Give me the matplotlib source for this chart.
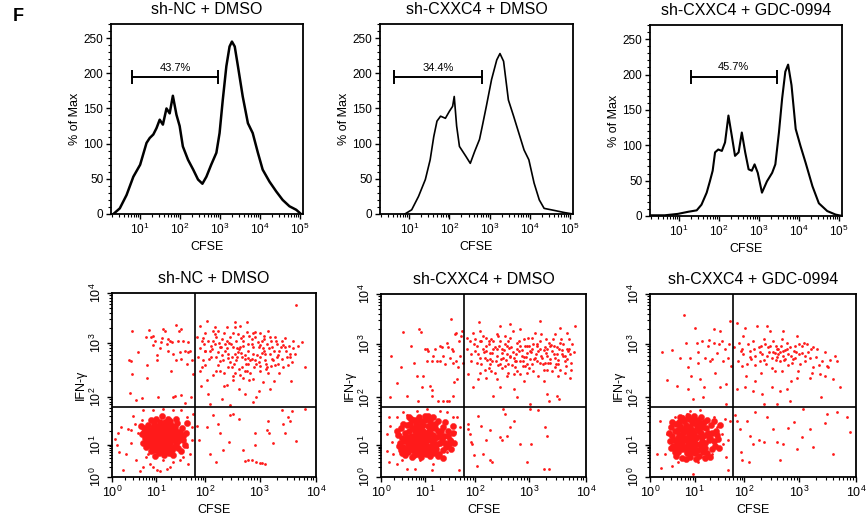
import numpy as np
import matplotlib
matplotlib.use('Agg')
import matplotlib.pyplot as plt
from matplotlib.ticker import FixedLocator, NullFormatter, MultipleLocator

plt.rcParams['font.family'] = ['Liberation Sans', 'DejaVu Sans']
plt.rcParams['mathtext.fontset'] = 'custom'
plt.rcParams['mathtext.rm'] = 'Liberation Sans'
plt.rcParams['mathtext.it'] = 'Liberation Sans:italic'
plt.rcParams['mathtext.bf'] = 'Liberation Sans:bold'

titles = ['sh-NC + DMSO', 'sh-CXXC4 + DMSO', 'sh-CXXC4 + GDC-0994']

# --- CFSE histograms: (log10 CFSE, % of Max) ---
nc_hist = [(0.33, 0), (0.49, 8), (0.66, 27), (0.83, 53), (1.0, 70), (1.16, 101), (1.24, 108),
           (1.33, 113), (1.41, 122), (1.49, 134), (1.57, 127), (1.66, 150), (1.74, 143), (1.82, 168),
           (1.91, 141), (1.99, 125), (2.07, 96), (2.2, 77), (2.33, 63), (2.45, 49), (2.56, 43),
           (2.66, 53), (2.78, 70), (2.91, 87), (2.99, 115), (3.07, 162), (3.16, 210), (3.24, 238),
           (3.3, 245), (3.37, 238), (3.45, 210), (3.57, 167), (3.7, 129), (3.82, 115), (3.95, 87),
           (4.07, 63), (4.24, 46), (4.41, 32), (4.57, 20), (4.74, 11), (4.91, 6), (5.03, 0)]
cxxc4_hist = [(0.89, 0), (1.06, 6), (1.23, 25), (1.4, 49), (1.52, 77), (1.61, 110), (1.69, 132),
              (1.78, 139), (1.9, 136), (2.0, 146), (2.08, 153), (2.12, 167), (2.18, 125), (2.25, 96),
              (2.33, 89), (2.41, 82), (2.52, 72), (2.63, 89), (2.75, 106), (2.82, 125), (2.92, 153),
              (3.05, 191), (3.18, 219), (3.26, 228), (3.35, 217), (3.47, 162), (3.6, 139), (3.73, 115),
              (3.86, 91), (3.98, 77), (4.11, 44), (4.24, 20), (4.36, 8), (4.62, 5), (4.87, 2), (5.08, 0)]
gdc_hist = [(0.3, 1), (0.64, 1), (0.97, 3), (1.23, 6), (1.44, 8), (1.56, 16), (1.69, 33), (1.77, 49),
            (1.84, 64), (1.9, 90), (1.98, 94), (2.07, 92), (2.15, 104), (2.235, 142), (2.32, 113),
            (2.4, 85), (2.49, 90), (2.57, 118), (2.655, 90), (2.74, 66), (2.82, 64), (2.89, 73),
            (2.97, 61), (3.075, 33), (3.2, 49), (3.33, 61), (3.41, 73), (3.5, 118), (3.58, 166),
            (3.66, 204), (3.73, 214), (3.815, 185), (3.92, 123), (4.04, 99), (4.17, 75), (4.34, 42),
            (4.5, 18), (4.71, 7), (4.92, 2), (5.09, 0)]

# divided-cell gate: (start log10, end log10, height, label)
hist_gates = [(0.80, 2.95, 194, '43.7%'), (0.62, 2.80, 194, '34.4%'), (1.29, 3.45, 197, '45.7%')]

# --- IFN-gamma vs CFSE dot plots: (log10 CFSE, log10 IFN-gamma) ---
nc_dots = [
    (0.45, 3.25), (0.39, 2.69), (0.42, 2.66), (0.46, 2.43), (0.58, 2.83), (0.40, 2.07), (0.55, 1.94),
    (0.67, 1.97), (0.79, 2.60), (0.79, 2.36), (0.83, 3.27), (0.88, 3.12), (0.93, 2.97), (0.97, 3.05),
    (1.02, 2.77), (1.01, 2.68), (1.07, 2.90), (1.12, 3.11), (1.14, 3.29), (1.18, 3.24), (1.21, 2.99),
    (1.24, 2.86), (1.28, 3.05), (1.30, 2.49), (1.32, 3.02), (1.34, 2.80), (1.38, 2.01), (1.41, 3.37),
    (1.45, 3.05), (1.46, 3.25), (1.51, 3.29), (1.48, 2.83), (1.51, 2.71), (1.55, 3.05), (1.58, 2.86),
    (1.62, 2.62), (1.65, 2.83), (1.68, 2.86), (1.70, 2.00), (1.72, 2.68), (1.74, 2.43), (1.51, 2.03),
    (1.58, 1.88), (1.34, 2.00), (1.04, 2.00), (0.78, 3.12), (0.93, 3.14), (1.24, 3.09), (1.09, 3.02),
    (1.41, 2.68), (1.64, 3.03),
    (1.82, 3.12), (1.89, 2.90), (1.92, 3.05), (1.97, 2.99), (2.02, 3.45), (2.05, 3.05), (2.08, 2.86),
    (2.14, 3.05), (2.17, 2.99), (2.20, 2.74), (2.23, 3.25), (2.27, 2.93), (2.30, 3.09), (2.33, 2.68),
    (2.36, 2.99), (2.39, 3.32), (2.42, 2.80), (2.45, 3.12), (2.48, 2.56), (2.51, 2.93), (2.54, 3.42),
    (2.57, 2.68), (2.60, 3.19), (2.64, 2.93), (2.67, 2.74), (2.70, 3.05), (2.73, 2.49), (2.76, 3.22),
    (2.79, 2.86), (2.82, 2.68), (2.85, 2.99), (2.88, 2.80), (2.91, 3.22), (2.94, 2.62), (2.98, 2.93),
    (3.01, 2.74), (3.04, 3.05), (3.07, 2.86), (3.10, 2.68), (3.13, 2.99), (3.15, 3.25), (3.18, 2.80),
    (3.21, 2.93), (3.24, 2.68), (3.27, 3.12), (3.30, 2.74), (3.39, 3.05), (3.45, 2.93), (3.48, 2.74),
    (3.54, 2.80), (3.60, 3.05), (3.75, 3.02), (3.81, 2.56), (3.65, 3.77), (2.76, 3.42), (2.51, 3.20),
    (2.20, 3.12), (1.95, 2.68), (1.89, 2.49), (2.02, 2.31), (2.14, 2.40), (2.27, 2.49), (2.39, 2.22),
    (2.51, 2.31), (2.64, 2.40), (2.76, 2.49), (2.88, 2.34), (3.01, 2.49), (3.13, 2.56), (3.18, 2.15),
    (2.94, 2.00), (2.73, 2.06), (2.45, 1.83), (2.08, 1.85), (1.99, 2.86), (2.11, 2.74), (2.23, 2.83),
    (2.36, 2.86), (2.48, 2.74), (2.60, 2.83), (2.73, 2.77), (2.85, 2.71), (2.98, 2.65), (3.10, 2.80),
    (3.21, 2.71), (3.33, 2.77), (2.17, 3.32), (2.54, 3.32), (2.91, 3.12), (2.42, 2.56), (2.67, 2.56),
    (2.54, 2.80), (2.79, 2.62), (3.07, 3.15), (3.30, 2.99), (3.42, 2.96), (3.54, 2.74), (1.89, 3.35),
    (2.14, 3.25), (2.39, 3.05), (2.64, 3.35), (2.62, 2.88), (2.70, 2.95), (2.78, 2.72), (2.95, 2.78),
    (3.05, 2.90), (3.12, 2.62), (2.85, 3.08), (2.58, 2.75), (3.20, 3.05), (3.35, 2.85), (3.00, 3.20),
    (2.40, 2.90), (2.30, 2.78), (2.25, 3.00), (2.45, 2.65), (2.90, 2.55), (3.15, 2.45), (3.28, 2.60),
    (3.40, 2.70), (2.70, 2.35), (2.55, 2.45), (2.35, 2.45), (2.10, 2.95), (1.95, 3.10), (2.00, 2.60),
    (3.45, 3.10), (3.60, 2.90), (3.50, 2.60), (2.80, 3.15), (2.65, 3.10),
    (1.85, 2.75), (1.92, 2.55), (2.00, 3.20), (2.06, 2.70), (2.12, 2.88), (2.18, 3.18), (2.24, 2.60),
    (2.29, 2.92), (2.35, 3.20), (2.41, 2.72), (2.47, 2.98), (2.52, 2.62), (2.56, 3.05), (2.61, 2.52),
    (2.66, 2.82), (2.69, 3.15), (2.74, 2.62), (2.78, 2.98), (2.83, 2.45), (2.87, 2.92), (2.92, 2.68),
    (2.96, 3.02), (3.00, 2.58), (3.04, 2.82), (3.08, 3.08), (3.11, 2.52), (3.16, 2.90), (3.20, 2.58),
    (3.25, 2.85), (3.29, 3.05), (3.33, 2.62), (3.37, 2.92), (3.42, 2.55), (3.47, 2.85), (3.52, 2.95),
    (3.57, 2.65), (3.62, 2.80), (3.68, 2.95), (2.20, 2.48), (2.50, 2.38), (2.80, 2.32), (3.05, 2.28),
    (2.35, 2.20), (2.62, 2.15), (2.98, 2.12), (3.26, 2.30), (1.90, 2.20), (2.05, 2.05), (2.30, 1.95),
    (2.88, 1.90), (3.35, 2.45), (3.55, 2.30), (2.00, 2.85), (2.27, 2.66), (2.58, 2.90), (2.87, 3.20),
    (3.18, 3.12), (2.44, 3.00), (2.72, 2.70), (3.00, 2.97),
    (1.82, 1.39), (1.87, 1.10), (2.02, 1.38), (2.09, 0.71), (2.14, 1.62), (2.20, 0.47), (2.23, 1.44),
    (2.27, 1.24), (2.32, 0.83), (2.44, 1.06), (2.45, 1.62), (2.51, 1.65), (2.62, 1.55), (2.70, 0.83),
    (2.73, 0.49), (2.79, 0.52), (2.85, 0.52), (2.91, 1.26), (2.91, 0.99), (2.94, 0.47), (3.01, 0.44),
    (3.04, 0.44), (3.10, 0.42), (3.13, 1.32), (3.14, 1.51), (3.17, 1.24), (3.24, 1.04), (3.39, 1.72),
    (3.42, 1.44), (3.45, 1.26), (3.51, 1.58), (3.54, 1.51), (3.57, 1.71), (3.64, 1.08), (3.81, 1.76),
    (0.06, 1.13), (0.11, 1.01), (0.16, 0.78), (0.25, 0.21), (0.31, 0.73), (0.36, 1.34), (0.42, 1.04),
    (0.48, 1.60), (0.55, 0.52), (0.59, 1.24), (0.63, 0.18), (0.67, 1.53), (0.70, 0.31), (0.78, 0.63),
    (0.82, 0.73), (0.86, 0.42), (0.93, 0.31), (1.01, 0.21), (1.07, 0.18), (1.14, 0.52), (1.21, 0.26),
    (1.28, 0.31), (1.34, 0.47), (1.48, 0.52), (1.55, 0.63), (1.62, 0.94), (1.65, 0.42), (1.68, 0.73),
    (1.72, 1.10), (1.75, 1.65), (1.72, 1.38), (1.62, 1.58), (1.51, 1.72), (1.34, 1.72), (1.14, 1.76),
    (0.93, 1.72), (0.70, 1.72), (0.52, 1.44), (0.44, 1.31), (0.21, 1.38), (0.14, 1.24)]
nc_core = [
    (1.12, 1.21), (1.05, 1.30), (1.20, 1.12), (0.98, 1.18), (1.27, 1.26), (1.15, 1.38), (1.08, 1.05),
    (1.33, 1.15), (0.92, 1.32), (1.22, 0.98), (1.40, 1.30), (0.85, 1.10), (1.02, 0.92), (1.30, 1.42),
    (1.17, 1.48), (0.95, 1.45), (1.45, 1.08), (0.80, 1.25), (1.10, 0.82), (1.36, 0.95), (0.88, 0.98),
    (1.25, 1.35), (1.03, 1.15), (1.14, 1.27), (1.19, 1.05), (0.99, 1.05), (1.29, 1.05), (1.07, 1.40),
    (1.38, 1.20), (0.90, 1.22), (1.48, 1.22), (1.52, 1.35), (0.75, 1.15), (0.72, 1.35), (1.55, 1.10),
    (1.42, 1.45), (0.82, 1.42), (1.24, 1.55), (1.00, 1.55), (1.12, 1.60), (0.78, 0.95), (0.95, 0.85),
    (1.18, 0.88), (1.32, 0.85), (1.45, 0.92), (1.58, 1.00), (1.60, 1.25), (0.68, 1.22), (0.70, 1.05),
    (1.05, 0.75), (1.25, 0.75), (0.88, 0.80), (1.40, 1.55), (0.88, 1.52), (1.62, 1.45), (0.65, 1.40),
    (1.50, 0.80), (1.15, 0.68), (0.98, 0.65), (1.35, 0.70), (1.09, 1.12), (1.16, 1.16), (1.21, 1.22),
    (1.04, 1.24), (0.96, 1.26), (1.26, 1.18), (1.12, 1.34), (1.31, 1.33), (1.02, 1.36), (0.93, 1.38),
    (1.19, 1.31), (1.23, 1.42), (1.08, 1.47), (1.35, 1.38), (1.44, 1.16), (1.49, 1.28), (1.41, 1.02),
    (0.87, 1.17), (0.83, 1.32), (0.79, 1.05), (1.06, 0.99), (1.14, 0.95), (1.27, 0.92), (0.94, 0.95),
    (1.01, 0.84), (1.22, 0.80), (1.37, 1.10), (1.54, 1.18), (0.73, 1.28), (1.28, 1.50), (1.18, 1.40),
    (0.97, 1.12), (1.11, 1.05), (1.24, 1.08), (1.33, 1.25), (1.39, 1.37), (0.91, 1.05), (1.06, 1.19),
    (1.17, 1.22), (1.00, 1.40)]

cxxc4_dots = [
    (0.22, 2.77), (0.20, 2.00), (0.35, 2.26), (0.45, 2.56), (0.49, 3.24), (0.59, 2.03), (0.68, 2.96),
    (0.75, 2.65), (0.80, 2.40), (0.86, 3.29), (0.89, 3.24), (0.92, 2.19), (0.95, 2.40), (0.99, 2.90),
    (1.03, 2.68), (1.06, 2.86), (1.09, 2.22), (1.13, 2.14), (1.14, 2.68), (1.16, 2.77), (1.19, 2.91),
    (1.23, 2.68), (1.26, 1.93), (1.30, 2.68), (1.33, 2.93), (1.35, 1.93), (1.36, 2.77), (1.40, 2.62),
    (1.43, 3.02), (1.46, 2.93), (1.48, 1.93), (1.50, 2.74), (1.51, 3.49), (1.53, 2.90), (1.55, 2.65),
    (1.56, 2.86), (1.58, 2.28), (1.60, 3.19), (1.62, 2.68), (1.63, 2.34), (1.66, 2.56), (1.68, 3.05),
    (1.70, 2.77), (1.72, 3.15), (1.73, 3.25), (1.75, 2.65), (1.44, 1.93), (1.56, 2.03), (1.62, 3.22),
    (1.30, 2.96), (0.84, 1.93), (1.13, 2.03), (1.03, 2.90),
    (1.83, 3.12), (1.90, 3.05), (1.97, 3.22), (2.03, 2.96), (2.08, 3.44), (2.09, 3.25), (2.12, 3.05),
    (2.15, 2.91), (2.18, 2.74), (2.21, 3.12), (2.25, 2.99), (2.28, 2.83), (2.31, 2.68), (2.34, 3.05),
    (2.37, 2.93), (2.40, 2.77), (2.43, 3.15), (2.46, 3.35), (2.49, 2.90), (2.52, 2.74), (2.55, 2.99),
    (2.58, 2.80), (2.61, 2.62), (2.64, 3.12), (2.67, 2.93), (2.71, 2.74), (2.74, 2.56), (2.77, 3.02),
    (2.80, 2.86), (2.83, 3.29), (2.86, 2.77), (2.89, 2.68), (2.92, 2.96), (2.95, 2.83), (2.98, 3.12),
    (3.01, 2.71), (3.04, 2.90), (3.07, 2.99), (3.10, 3.22), (3.13, 2.68), (3.16, 2.86), (3.19, 3.05),
    (3.22, 2.74), (3.25, 2.52), (3.28, 2.93), (3.31, 2.77), (3.34, 3.02), (3.36, 2.65), (3.39, 2.86),
    (3.42, 3.09), (3.45, 2.74), (3.48, 2.93), (3.51, 2.62), (3.54, 3.32), (3.57, 2.80), (3.60, 2.99),
    (3.63, 2.68), (3.66, 3.22), (3.69, 2.86), (3.71, 2.37), (3.73, 2.52), (3.76, 2.99), (3.80, 3.35),
    (3.31, 2.06), (3.34, 1.93), (3.48, 2.03), (3.53, 1.96), (2.46, 2.62), (2.58, 2.40), (2.71, 2.43),
    (2.83, 2.43), (3.07, 2.49), (3.31, 2.52), (3.54, 2.52), (1.97, 2.19), (2.06, 2.34), (2.21, 2.37),
    (2.34, 2.03), (2.46, 2.19), (2.71, 2.15), (2.77, 2.00), (3.01, 1.86), (3.19, 3.45), (2.64, 3.39),
    (2.00, 2.86), (1.93, 2.68), (1.87, 2.43), (2.18, 2.52), (2.37, 2.46), (2.55, 2.59), (2.74, 2.68),
    (2.92, 2.59), (3.10, 2.74), (3.28, 2.65), (3.45, 2.56), (3.63, 2.77), (2.21, 2.86), (2.40, 2.90),
    (2.58, 2.96), (2.77, 2.90), (2.95, 2.96), (3.13, 2.99), (3.31, 2.90), (3.48, 2.80), (3.66, 2.90),
    (2.09, 2.74), (2.28, 2.62), (2.46, 3.05), (2.64, 2.77), (2.83, 2.68), (3.01, 2.86), (3.19, 2.65),
    (3.36, 2.96), (3.54, 3.02), (2.05, 2.80), (2.12, 2.62), (2.20, 2.95), (2.27, 2.72), (2.33, 2.90),
    (2.42, 2.60), (2.50, 2.82), (2.57, 2.70), (2.62, 2.92), (2.68, 2.60), (2.75, 2.80), (2.82, 2.95),
    (2.88, 2.58), (2.93, 2.75), (3.00, 2.95), (3.05, 2.62), (3.12, 2.80), (3.18, 2.90), (3.24, 2.62),
    (3.30, 2.82), (3.37, 2.72), (3.44, 2.95), (3.50, 2.70), (3.58, 2.88), (3.65, 2.58), (3.72, 2.80),
    (2.15, 3.15), (2.40, 3.20), (2.70, 3.25), (2.90, 3.10), (3.20, 3.20), (3.45, 3.20), (3.70, 3.10),
    (2.30, 2.50), (2.60, 2.45), (2.95, 2.45), (3.15, 2.40), (3.50, 2.40),
    (1.85, 2.90), (1.92, 2.80), (1.98, 3.00), (2.04, 2.65), (2.10, 3.05), (2.16, 2.85), (2.22, 2.70),
    (2.26, 3.05), (2.32, 2.82), (2.38, 2.68), (2.44, 2.95), (2.48, 2.72), (2.53, 2.88), (2.60, 3.05),
    (2.65, 2.75), (2.70, 2.85), (2.76, 2.68), (2.80, 3.05), (2.86, 2.88), (2.90, 2.75), (2.96, 2.62),
    (3.02, 2.85), (3.08, 2.72), (3.14, 2.95), (3.20, 2.78), (3.26, 2.88), (3.32, 2.65), (3.38, 2.98),
    (3.43, 2.80), (3.47, 2.62), (3.53, 2.90), (3.60, 2.78), (3.67, 2.72), (3.74, 2.65), (3.78, 2.85),
    (2.25, 2.55), (2.50, 2.55), (2.78, 2.50), (3.00, 2.55), (3.40, 2.50), (3.62, 2.45), (2.40, 2.35),
    (2.90, 2.30), (3.25, 2.30), (2.10, 2.45), (3.70, 2.90), (3.56, 3.10), (3.30, 3.10), (3.05, 3.12),
    (2.55, 3.15), (2.30, 3.10), (2.00, 3.10),
    (1.87, 1.44), (1.87, 1.34), (1.90, 1.24), (1.93, 1.06), (1.95, 1.03), (1.98, 0.68), (2.03, 0.36),
    (2.06, 1.62), (2.12, 1.41), (2.15, 0.73), (2.21, 1.10), (2.28, 0.52), (2.31, 0.47), (2.46, 1.17),
    (2.49, 1.10), (2.52, 1.76), (2.55, 1.65), (2.58, 1.20), (2.64, 1.38), (2.71, 1.51), (2.83, 1.03),
    (3.01, 1.76), (3.02, 1.03), (3.16, 1.74), (3.28, 1.38), (3.31, 1.20), (3.25, 0.26), (3.34, 0.26),
    (2.95, 0.47), (2.28, 1.31),
    (0.17, 1.58), (0.20, 1.41), (0.19, 0.47), (0.24, 1.06), (0.28, 0.73), (0.35, 0.40), (0.43, 1.24),
    (0.47, 0.52), (0.50, 1.69), (0.58, 1.64), (0.58, 0.26), (0.77, 0.26), (0.88, 0.52), (1.13, 0.23),
    (1.16, 0.42), (1.33, 0.63), (1.43, 0.78), (1.53, 1.10), (1.60, 1.27), (1.63, 1.58), (1.70, 1.38),
    (1.68, 0.21), (1.55, 1.58), (1.43, 1.69), (1.30, 1.72), (1.03, 1.76), (0.80, 1.72), (0.35, 1.58),
    (0.14, 1.24), (0.14, 0.83)]
cxxc4_core = [
    (0.95, 1.15), (0.88, 1.22), (1.02, 1.08), (0.80, 1.05), (1.10, 1.25), (0.92, 1.32), (0.75, 1.20),
    (1.05, 1.40), (0.85, 0.95), (1.18, 1.12), (0.70, 1.35), (0.98, 0.92), (1.25, 1.30), (0.62, 1.10),
    (1.12, 0.98), (0.78, 1.45), (1.30, 1.05), (0.90, 1.50), (0.66, 0.98), (1.20, 1.45), (0.55, 1.25),
    (1.38, 1.20), (0.58, 1.42), (1.35, 1.38), (0.72, 0.85), (1.08, 0.82), (0.95, 0.75), (1.22, 0.88),
    (0.82, 0.72), (1.45, 1.30), (0.48, 1.15), (1.50, 1.10), (0.50, 0.95), (1.42, 0.95), (0.60, 0.78),
    (1.28, 0.72), (0.68, 1.55), (1.15, 1.58), (0.85, 1.60), (1.00, 1.62), (0.45, 1.35), (1.55, 1.40),
    (0.42, 1.05), (1.52, 0.88), (0.55, 0.68), (0.90, 0.62), (1.10, 0.65), (1.35, 0.60), (0.70, 0.62),
    (0.38, 1.22), (0.93, 1.05), (0.86, 1.12), (1.00, 1.20), (1.06, 1.15), (0.83, 1.28), (0.97, 1.28),
    (1.13, 1.35), (0.77, 1.12), (0.73, 1.02), (1.04, 0.98), (1.16, 1.05), (0.89, 0.88), (1.01, 0.85),
    (1.14, 0.90), (0.79, 0.90), (0.67, 1.20), (0.63, 1.30), (1.24, 1.18), (1.29, 1.22), (0.81, 1.38),
    (0.95, 1.42), (1.09, 1.50), (1.19, 1.35), (1.33, 1.12), (0.60, 1.02), (0.52, 1.08), (0.65, 1.45),
    (0.74, 1.52), (0.98, 1.52), (1.26, 1.50), (1.40, 1.48), (1.46, 1.20), (1.40, 1.05), (1.36, 0.85),
    (1.18, 0.75), (1.02, 0.72), (0.84, 0.80), (0.66, 0.88), (0.57, 0.88), (0.50, 1.45), (0.44, 0.85),
    (1.48, 1.02), (0.87, 1.05), (0.91, 1.25), (1.07, 1.30), (1.15, 1.22), (0.76, 1.30), (0.70, 1.10),
    (1.23, 1.02), (0.99, 1.00), (0.94, 0.82), (1.12, 1.42), (0.82, 1.52), (0.62, 1.60), (1.05, 1.62),
    (0.58, 1.18), (1.32, 1.30), (1.20, 0.95), (0.80, 1.18), (0.88, 1.40), (1.55, 1.25), (0.40, 0.98),
    (0.48, 0.75), (1.25, 0.65), (0.75, 0.70), (1.58, 1.05), (0.35, 1.30), (1.10, 1.10), (0.84, 0.98),
    (1.04, 1.20)]

gdc_dots = [
    (0.26, 2.85), (0.49, 2.88), (0.37, 2.32), (0.60, 2.22), (0.67, 2.74), (0.77, 3.57), (0.81, 3.02),
    (0.84, 2.56), (0.90, 2.74), (0.92, 2.40), (0.97, 1.97), (1.01, 3.32), (1.05, 3.02), (1.07, 2.65),
    (1.11, 2.34), (1.14, 3.05), (1.17, 2.00), (1.21, 2.74), (1.26, 2.96), (1.28, 3.07), (1.31, 2.68),
    (1.34, 2.71), (1.38, 3.29), (1.41, 2.46), (1.44, 2.83), (1.48, 2.99), (1.51, 3.25), (1.54, 3.05),
    (1.58, 2.68), (1.61, 2.90), (1.64, 1.86), (1.68, 2.74), (1.70, 2.99), (1.72, 3.45), (1.74, 2.59),
    (1.64, 2.25), (1.51, 2.19), (1.38, 3.02), (1.19, 2.19), (0.86, 2.15), (1.07, 2.85),
    (1.79, 2.94), (1.85, 3.42), (1.88, 2.68), (1.90, 3.02), (1.93, 2.86), (1.95, 2.59), (1.98, 2.80),
    (2.01, 3.32), (2.03, 2.40), (2.07, 2.99), (2.10, 2.86), (2.13, 2.71), (2.16, 3.05), (2.20, 2.77),
    (2.23, 3.35), (2.26, 2.93), (2.29, 2.68), (2.32, 2.80), (2.35, 3.09), (2.38, 2.99), (2.41, 2.77),
    (2.44, 2.93), (2.47, 3.25), (2.50, 2.74), (2.53, 3.05), (2.56, 2.49), (2.59, 2.90), (2.62, 2.80),
    (2.65, 2.68), (2.68, 3.09), (2.71, 2.86), (2.74, 2.71), (2.77, 3.02), (2.80, 2.80), (2.84, 2.93),
    (2.87, 2.65), (2.90, 2.86), (2.93, 2.74), (2.96, 3.15), (2.99, 2.99), (3.02, 2.62), (3.05, 2.83),
    (3.08, 3.02), (3.11, 2.68), (3.13, 2.99), (3.19, 2.74), (3.25, 2.56), (3.31, 2.90), (3.37, 2.43),
    (3.49, 2.59), (3.51, 2.56), (3.63, 2.78), (3.66, 2.68), (3.72, 2.19), (3.60, 2.34), (3.38, 2.01),
    (3.19, 2.36), (2.96, 2.37), (2.77, 2.15), (2.65, 2.12), (2.50, 2.19), (2.32, 2.06), (2.16, 2.12),
    (2.01, 2.19), (1.85, 2.15), (2.35, 1.86), (2.59, 1.86), (2.84, 1.93), (3.06, 1.76), (1.98, 3.15),
    (2.41, 3.35), (2.71, 3.25), (3.25, 2.93), (3.40, 2.68), (2.55, 2.82), (2.60, 2.76), (2.65, 2.85),
    (2.70, 2.78), (2.62, 2.90), (2.58, 2.70), (2.75, 2.88), (2.45, 2.85), (2.85, 2.78), (2.92, 2.95),
    (2.40, 2.62), (2.20, 2.60), (3.00, 2.80), (3.15, 2.85), (2.30, 2.95), (2.10, 2.75), (1.95, 2.90),
    (2.80, 2.60), (3.30, 2.75), (3.45, 2.85),
    (2.05, 2.62), (2.18, 2.90), (2.28, 2.85), (2.36, 2.70), (2.46, 2.95), (2.52, 2.85), (2.57, 2.95),
    (2.66, 2.95), (2.72, 2.70), (2.78, 2.90), (2.88, 2.72), (2.95, 2.85), (3.05, 2.95), (3.10, 2.78),
    (3.20, 2.90), (3.35, 2.60), (3.55, 2.70), (2.50, 2.55), (2.68, 2.50), (2.98, 2.50), (3.22, 2.45),
    (2.30, 2.45), (2.20, 2.30), (2.85, 2.30), (3.45, 2.40),
    (1.81, 1.64), (1.85, 1.51), (1.91, 1.34), (1.93, 0.78), (1.96, 0.52), (2.04, 1.50), (2.09, 0.47),
    (2.10, 1.20), (2.16, 1.03), (2.20, 1.69), (2.26, 1.10), (2.35, 1.06), (2.41, 1.58), (2.53, 1.34),
    (2.59, 1.06), (2.65, 0.52), (2.71, 1.03), (2.80, 1.36), (2.90, 1.48), (2.96, 0.89), (3.05, 1.17),
    (3.19, 1.34), (3.25, 0.94), (3.46, 1.46), (3.49, 1.65), (3.60, 0.73), (3.66, 1.70), (3.84, 1.58),
    (3.89, 1.27),
    (0.15, 0.71), (0.22, 1.51), (0.24, 0.29), (0.34, 0.73), (0.39, 1.24), (0.45, 1.06), (0.49, 0.36),
    (0.56, 1.58), (0.63, 0.47), (0.82, 1.65), (0.97, 0.10), (1.07, 0.47), (1.17, 0.63), (1.34, 0.73),
    (1.38, 1.58), (1.44, 1.38), (1.54, 1.24), (1.58, 1.03), (1.64, 0.63), (1.68, 0.21), (1.71, 1.51),
    (1.68, 1.10), (1.61, 1.55), (1.11, 1.74), (0.90, 1.72), (0.75, 1.62)]
gdc_core = [
    (0.93, 1.20), (0.86, 1.28), (1.00, 1.12), (0.80, 1.10), (1.08, 1.30), (0.90, 1.38), (0.74, 1.25),
    (1.02, 1.45), (0.85, 1.00), (1.15, 1.18), (0.68, 1.40), (0.96, 0.98), (1.22, 1.35), (0.62, 1.15),
    (1.10, 1.02), (0.77, 1.50), (1.28, 1.10), (0.88, 1.55), (0.66, 1.00), (1.18, 1.48), (0.56, 1.30),
    (1.35, 1.25), (0.58, 1.45), (1.32, 1.42), (0.72, 0.88), (1.06, 0.85), (0.93, 0.78), (1.20, 0.92),
    (0.82, 0.75), (1.42, 1.30), (0.50, 1.20), (1.46, 1.12), (0.52, 0.98), (1.40, 0.98), (0.62, 0.80),
    (1.25, 0.75), (0.68, 1.58), (1.12, 1.60), (0.84, 1.62), (0.98, 1.62), (0.46, 1.38), (1.50, 1.42),
    (0.45, 1.08), (1.48, 0.90), (0.58, 0.65), (0.90, 0.62), (1.08, 0.66), (1.30, 0.62), (0.72, 0.60),
    (0.42, 1.25), (0.91, 1.10), (0.84, 1.18), (0.99, 1.25), (1.04, 1.18), (0.81, 1.32), (0.95, 1.32),
    (1.11, 1.40), (0.76, 1.16), (0.72, 1.05), (1.02, 1.02), (1.14, 1.08), (0.88, 0.90), (1.00, 0.88),
    (1.12, 0.93), (0.78, 0.94), (0.66, 1.22), (0.62, 1.32), (1.22, 1.22), (1.27, 1.26), (0.80, 1.42),
    (0.94, 1.46), (1.07, 1.52), (1.17, 1.38), (1.31, 1.15), (0.60, 1.05), (0.54, 1.10), (0.64, 1.48),
    (0.73, 1.55), (0.96, 1.55), (1.24, 1.52), (1.38, 1.50), (1.44, 1.22), (1.38, 1.08), (1.34, 0.88),
    (1.16, 0.78), (1.00, 0.74), (0.83, 0.82), (0.66, 0.90), (0.57, 0.90), (0.50, 1.48), (0.86, 1.08),
    (0.90, 1.28), (1.05, 1.35), (1.13, 1.25), (0.75, 1.34), (0.69, 1.12), (1.21, 1.05), (0.97, 1.05),
    (0.92, 0.85), (1.10, 1.46), (0.55, 0.80), (1.02, 0.55), (0.80, 0.55), (1.20, 0.60), (0.48, 0.92)]

# quadrant gate (log10 CFSE, log10 IFN-gamma)
quad_gate = (1.78, 1.79)

hists = [nc_hist, cxxc4_hist, gdc_hist]
dots = [nc_dots, cxxc4_dots, gdc_dots]
cores = [nc_core, cxxc4_core, gdc_core]
hist_lw = [1.8, 1.2, 1.5]

# the cytometer display compresses the low decades: pixel offset of each decade
x_decades = [0, 44, 93, 147, 203]
y_decades = [0, 32, 80, 134, 184]


def cyto_scale(pos):
    def fwd(v):
        v = np.clip(np.asarray(v, float), 1e-6, None)
        return np.interp(np.log10(v), [0, 1, 2, 3, 4], pos)

    def inv(u):
        return 10 ** np.interp(np.asarray(u, float), pos, [0, 1, 2, 3, 4])
    return fwd, inv


fig = plt.figure(figsize=(8.66, 5.23), dpi=100)
W, H = 866, 523

top_boxes = [(111, 24, 303, 214), (380, 24, 573, 214), (650, 25, 842, 216)]
bot_boxes = [(112, 293, 316, 477), (381, 294, 586, 477), (650, 294, 856, 477)]

red = '#ff1a1a'
minor_log = [k * 10.0 ** d for d in range(0, 5) for k in range(2, 10)]

for i in range(3):
    # ---- histogram ----
    l, t, r, b = top_boxes[i]
    ax = fig.add_axes([l / W, 1 - b / H, (r - l) / W, (b - t) / H])
    h = np.array(hists[i])
    ax.plot(10 ** h[:, 0], h[:, 1], color='black', lw=hist_lw[i])
    g0, g1, gy, glab = hist_gates[i]
    ax.plot([10 ** g0, 10 ** g1], [gy, gy], color='black', lw=1.4,
            marker='|', markersize=10, mew=1.4)
    ax.text(10 ** ((g0 + g1) / 2), gy + 7, glab, ha='center', va='bottom', fontsize=8)
    ax.set_xscale('log')
    ax.set_xlim(10 ** 0.27, 10 ** 5.08)
    ax.set_ylim(0, 270)
    ax.set_xticks([1e1, 1e2, 1e3, 1e4, 1e5],
                  ['$10^{1}$', '$10^{2}$', '$10^{3}$', '$10^{4}$', '$10^{5}$'])
    ax.xaxis.set_minor_locator(FixedLocator(minor_log))
    ax.xaxis.set_minor_formatter(NullFormatter())
    ax.set_yticks([0, 50, 100, 150, 200, 250])
    ax.yaxis.set_minor_locator(MultipleLocator(10))
    ax.tick_params(which='major', direction='out', length=3.5, width=1.0, labelsize=8.5, pad=2)
    ax.tick_params(which='minor', direction='out', length=2, width=0.8)
    for s in ax.spines.values():
        s.set_linewidth(1.3)
    ax.set_xlabel('CFSE', fontsize=9, labelpad=3)
    ax.set_ylabel('% of Max', fontsize=9, labelpad=2)
    ax.set_title(titles[i], fontsize=11.5, pad=7.5)

    # ---- dot plot ----
    l, t, r, b = bot_boxes[i]
    ax = fig.add_axes([l / W, 1 - b / H, (r - l) / W, (b - t) / H])
    ax.set_xscale('function', functions=cyto_scale(x_decades))
    ax.set_yscale('function', functions=cyto_scale(y_decades))
    d = np.array(dots[i])
    c = np.array(cores[i])
    ax.scatter(10 ** d[:, 0], 10 ** d[:, 1], s=4, color=red, marker='o', linewidths=0)
    ax.scatter(10 ** c[:, 0], 10 ** c[:, 1], s=20, color=red, marker='o',
               edgecolors=red, linewidths=0.3)
    ax.axvline(10 ** quad_gate[0], color='black', lw=1.2)
    ax.axhline(10 ** quad_gate[1], color='black', lw=1.2)
    ax.set_xlim(1, 1e4)
    ax.set_ylim(1, 1e4)
    labs = ['$10^{0}$', '$10^{1}$', '$10^{2}$', '$10^{3}$', '$10^{4}$']
    ax.set_xticks([1, 1e1, 1e2, 1e3, 1e4], labs)
    ax.set_yticks([1, 1e1, 1e2, 1e3, 1e4], labs)
    ax.xaxis.set_minor_locator(FixedLocator(minor_log))
    ax.yaxis.set_minor_locator(FixedLocator(minor_log))
    ax.xaxis.set_minor_formatter(NullFormatter())
    ax.yaxis.set_minor_formatter(NullFormatter())
    ax.tick_params(which='major', direction='out', length=3.5, width=1.0, labelsize=9, pad=2)
    ax.tick_params(which='minor', direction='out', length=2.2, width=0.8)
    ax.tick_params(axis='y', labelrotation=90)
    for lab in ax.get_yticklabels():
        lab.set_va('center')
    for s in ax.spines.values():
        s.set_linewidth(1.3)
    ax.set_xlabel('CFSE', fontsize=9, labelpad=3)
    ax.set_ylabel('IFN-γ', fontsize=9, labelpad=2)
    ax.set_title(titles[i], fontsize=11.5, pad=7)

fig.text(0.015, 0.985, 'F', fontsize=13, fontweight='bold', va='top', ha='left')

fig.savefig('out.png', dpi=100)
